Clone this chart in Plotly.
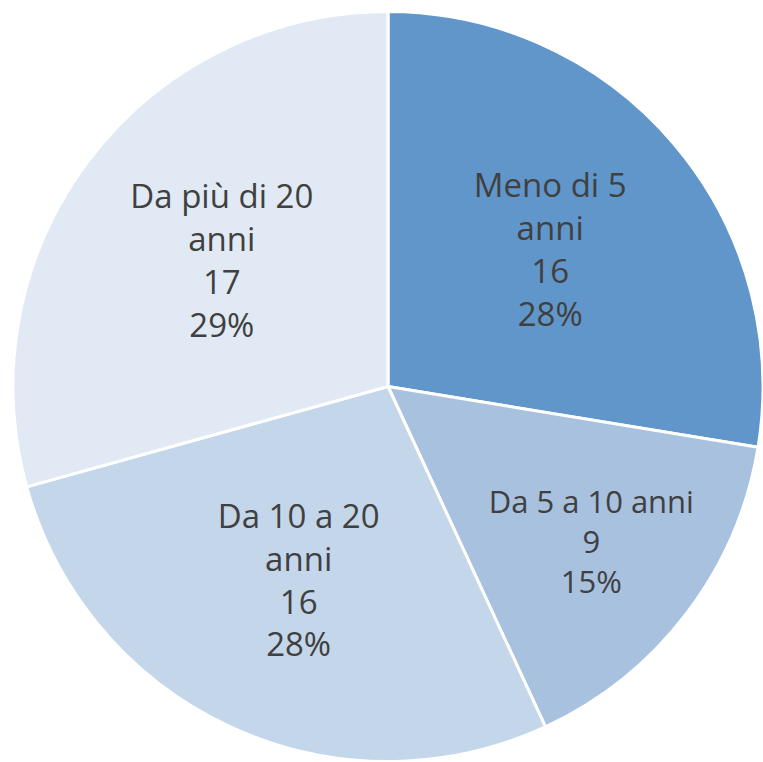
import plotly.graph_objects as go

categories = ["Meno di 5 anni", "Da 5 a 10 anni", "Da 10 a 20 anni", "Da più di 20 anni"]
label_lines = ["Meno di 5<br>anni", "Da 5 a 10 anni", "Da 10 a 20<br>anni", "Da più di 20<br>anni"]
values = [16, 9, 16, 17]
percent_labels = ["28%", "15%", "28%", "29%"]
colors = ["#6096CA", "#A7C1DF", "#C4D6EA", "#E0E9F4"]

texts = [f"{l}<br>{v}<br>{p}" for l, v, p in zip(label_lines, values, percent_labels)]

fig = go.Figure(go.Pie(
    labels=categories,
    values=values,
    text=texts,
    texttemplate="%{text}",
    textposition="inside",
    insidetextorientation="horizontal",
    sort=False,
    direction="clockwise",
    rotation=0,
    marker=dict(colors=colors, line=dict(color="white", width=3)),
    textfont=dict(family="Open Sans", size=33, color="#404040"),
    hoverinfo="skip",
    showlegend=False,
))

fig.update_layout(
    width=763, height=762,
    margin=dict(l=13, r=0, t=11, b=0),
    paper_bgcolor="white",
)

fig.write_html(
    "out.html",
    config={"displayModeBar": False},
    post_script="document.body.style.margin='0px';document.documentElement.style.overflow='hidden';",
)
